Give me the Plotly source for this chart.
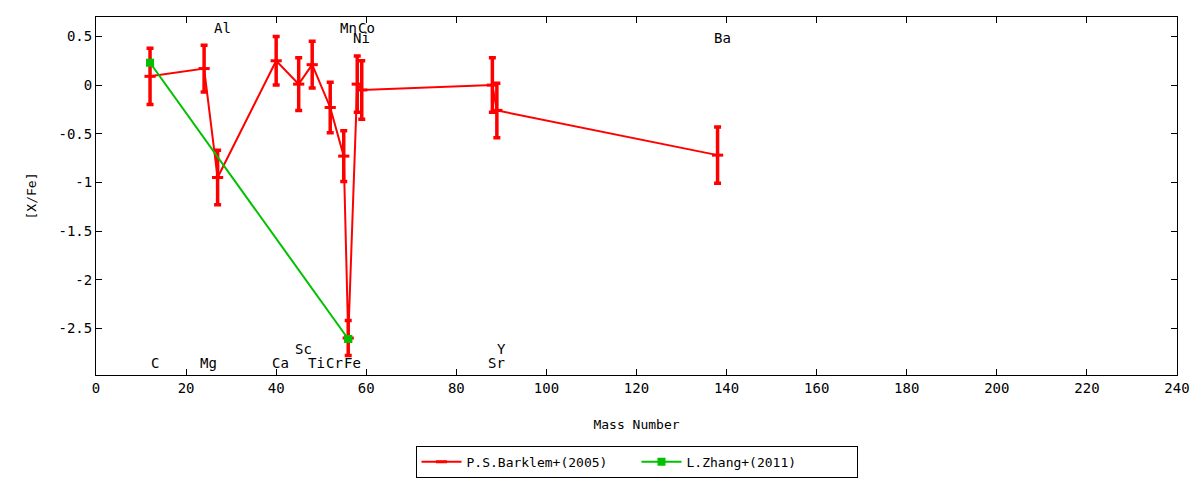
import plotly.graph_objects as go

# P.S.Barklem+(2005)
barklem_elem = ["C", "Mg", "Al", "Ca", "Sc", "Ti", "Cr", "Mn", "Fe", "Ni", "Co", "Sr", "Y", "Ba"]
barklem_mass = [12, 24, 27, 40, 45, 48, 52, 55, 56, 58, 59, 88, 89, 138]
barklem_xfe = [0.09, 0.17, -0.95, 0.25, 0.01, 0.21, -0.23, -0.73, -2.60, 0.01, -0.05, 0.00, -0.26, -0.72]
barklem_err = [0.29, 0.24, 0.28, 0.25, 0.27, 0.24, 0.26, 0.26, 0.18, 0.29, 0.30, 0.28, 0.28, 0.29]

# L.Zhang+(2011)
zhang_mass = [12, 56]
zhang_xfe = [0.23, -2.61]
zhang_err = [0.02, 0.02]

# element labels shown in the plot
label_elem = ["C", "Mg", "Al", "Ca", "Sc", "Ti", "Cr", "Mn", "Fe", "Co", "Ni", "Sr", "Y", "Ba"]
label_mass = [12, 24, 27, 40, 45, 48, 52, 55, 56, 59, 58, 88, 89, 138]

# where each label sits (gnuplot-like staggering)
label_level = {"Al": 0.59, "Mn": 0.59, "Co": 0.59, "Ni": 0.48, "Ba": 0.48,
               "Sc": -2.71, "Y": -2.71}
label_default = -2.86

x_ticks = list(range(0, 241, 20))
y_ticks = [0.5, 0, -0.5, -1, -1.5, -2, -2.5]
y_ticktext = ["0.5", "0", "-0.5", "-1", "-1.5", "-2", "-2.5"]

RED = "#ff0000"
GREEN = "#00c000"
FONT = "DejaVu Sans Mono"
FS = 13

fig = go.Figure()

fig.add_trace(go.Scatter(
    x=barklem_mass, y=barklem_xfe,
    mode="lines+markers",
    name="P.S.Barklem+(2005)",
    line=dict(color=RED, width=2),
    marker=dict(symbol="line-ew", size=8, color=RED, line=dict(color=RED, width=3)),
    error_y=dict(type="data", array=barklem_err, visible=True,
                 color=RED, thickness=3.5, width=3.5),
))

fig.add_trace(go.Scatter(
    x=zhang_mass, y=zhang_xfe,
    mode="lines+markers",
    name="L.Zhang+(2011)",
    line=dict(color=GREEN, width=2),
    marker=dict(symbol="square", size=8, color=GREEN),
    error_y=dict(type="data", array=zhang_err, visible=True,
                 color=GREEN, thickness=3, width=4),
))

for el, m in zip(label_elem, label_mass):
    fig.add_annotation(
        x=m, y=label_level.get(el, label_default), text=el,
        showarrow=False, xanchor="center", yanchor="middle", xshift=4.5,
        font=dict(family=FONT, size=FS + 1, color="black"),
    )

axis_common = dict(
    showgrid=False, zeroline=False, showline=True, linecolor="black", linewidth=1,
    mirror="allticks", ticks="inside", ticklen=6, tickcolor="black",
    tickfont=dict(family=FONT, size=FS + 1, color="black"),
)

fig.update_xaxes(range=[0, 240], tickvals=x_ticks,
                 title=dict(text="Mass Number", font=dict(family=FONT, size=FS, color="black"),
                            standoff=25),
                 **axis_common)
fig.update_yaxes(range=[-2.98, 0.70], tickvals=y_ticks, ticktext=y_ticktext,
                 title=dict(text="[X/Fe]", font=dict(family=FONT, size=FS, color="black"),
                            standoff=18),
                 **axis_common)

# page body has an 8px margin, so the figure is a little smaller than the window
fig.update_layout(
    width=1192, height=472,
    margin=dict(l=88, r=23, t=9, b=105, autoexpand=False),
    plot_bgcolor="white", paper_bgcolor="white",
    font=dict(family=FONT, size=FS, color="black"),
    legend=dict(orientation="h", x=0.5, xanchor="center", y=-0.198, yanchor="top",
                bordercolor="black", borderwidth=1, bgcolor="white",
                font=dict(family=FONT, size=FS, color="black"),
                itemwidth=40, entrywidth=165),
)

fig.write_html("out.html")
